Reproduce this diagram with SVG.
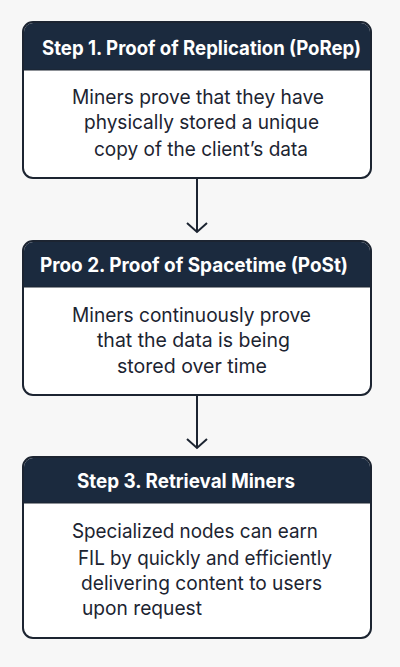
<svg xmlns="http://www.w3.org/2000/svg" width="400" height="667" viewBox="0 0 400 667">
<style>
.box{fill:#ffffff;stroke:#1c2431;stroke-width:2}
.hdr{fill:#1b2a3e}
.ht{font-family:Inter,"Liberation Sans",sans-serif;font-weight:700;font-size:19.5px;fill:#ffffff}
.bt{font-family:Inter,"Liberation Sans",sans-serif;font-size:20px;fill:#1c2431}
.conn{stroke:#1c2431;stroke-width:2;fill:none}
</style>
<rect width="400" height="667" fill="#f7f7f7"/>
<g id="connectors">
<path class="conn" d="M197 178 V232 M187 223 L197 232 L207 223"/>
<path class="conn" d="M197 395 V448 M187 439 L197 448 L207 439"/>
</g>
<g id="step1">
<rect class="box" x="23" y="22" width="348" height="156" rx="10"/>
<path class="hdr" d="M33 23 H361 A9 9 0 0 1 370 32 V70 H24 V32 A9 9 0 0 1 33 23 Z"/>
<line x1="24" y1="70" x2="370" y2="70" stroke="#1c2431" stroke-width="1"/>
<text class="ht" x="42" y="55" textLength="319" lengthAdjust="spacingAndGlyphs">Step 1. Proof of Replication (PoRep)</text>
<text class="bt" x="72" y="104" textLength="252" lengthAdjust="spacingAndGlyphs">Miners prove that they have</text>
<text class="bt" x="84" y="129" textLength="235" lengthAdjust="spacingAndGlyphs">physically stored a unique</text>
<text class="bt" x="94" y="156" textLength="214" lengthAdjust="spacingAndGlyphs">copy of the client’s data</text>
</g>
<g id="step2">
<rect class="box" x="23" y="241" width="348" height="154" rx="10"/>
<path class="hdr" d="M33 242 H361 A9 9 0 0 1 370 251 V287 H24 V251 A9 9 0 0 1 33 242 Z"/>
<line x1="24" y1="287" x2="370" y2="287" stroke="#1c2431" stroke-width="1"/>
<text class="ht" x="40" y="272" textLength="308" lengthAdjust="spacingAndGlyphs">Proo 2. Proof of Spacetime (PoSt)</text>
<text class="bt" x="72" y="322" textLength="239" lengthAdjust="spacingAndGlyphs">Miners continuously prove</text>
<text class="bt" x="97" y="347" textLength="193" lengthAdjust="spacingAndGlyphs">that the data is being</text>
<text class="bt" x="117" y="373" textLength="150" lengthAdjust="spacingAndGlyphs">stored over time</text>
</g>
<g id="step3">
<rect class="box" x="23" y="457" width="348" height="181" rx="10"/>
<path class="hdr" d="M33 458 H361 A9 9 0 0 1 370 467 V503 H24 V467 A9 9 0 0 1 33 458 Z"/>
<line x1="24" y1="503" x2="370" y2="503" stroke="#1c2431" stroke-width="1"/>
<text class="ht" x="77" y="488" textLength="218" lengthAdjust="spacingAndGlyphs">Step 3. Retrieval Miners</text>
<text class="bt" x="72" y="538" textLength="246" lengthAdjust="spacingAndGlyphs">Specialized nodes can earn</text>
<text class="bt" x="78" y="565" textLength="254" lengthAdjust="spacingAndGlyphs">FIL by quickly and efficiently</text>
<text class="bt" x="81" y="590" textLength="241" lengthAdjust="spacingAndGlyphs">delivering content to users</text>
<text class="bt" x="82" y="615" textLength="120" lengthAdjust="spacingAndGlyphs">upon request</text>
</g>
</svg>
